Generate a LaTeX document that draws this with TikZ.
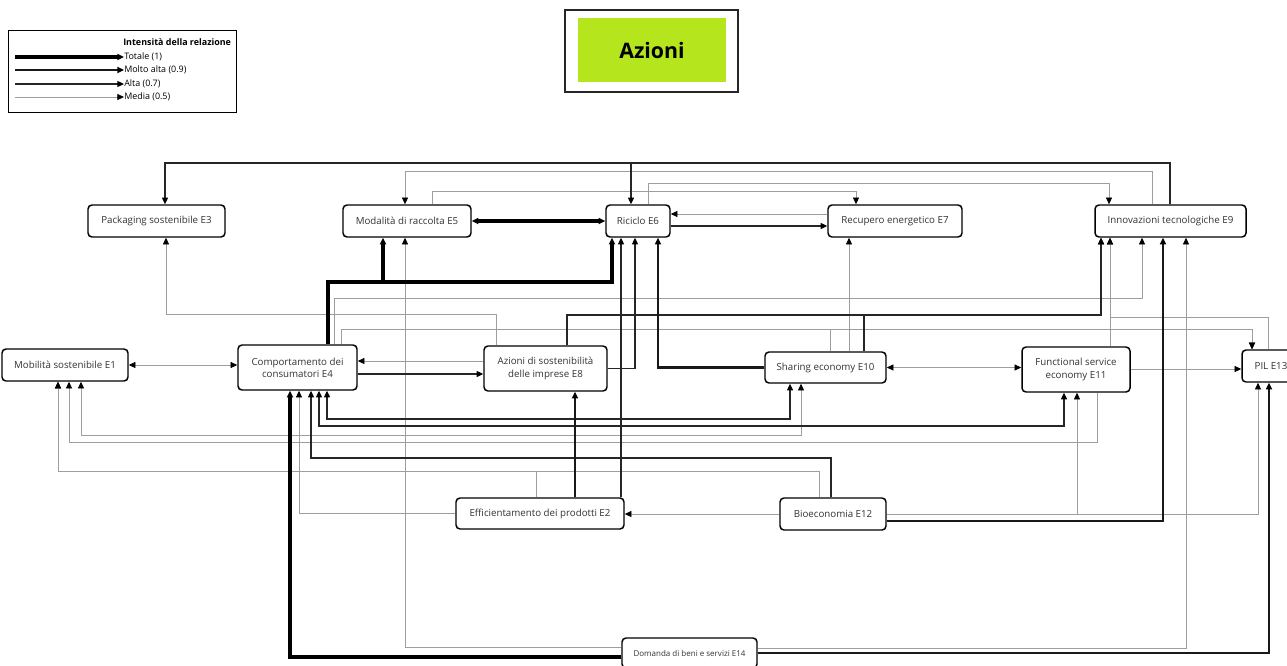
\documentclass[tikz,border=0pt]{standalone}
\usepackage{fontspec}
\setmainfont{Open Sans}
\usetikzlibrary{arrows.meta}
\definecolor{lime}{HTML}{B5E61D}
\definecolor{linkgray}{gray}{0.62}
\tikzset{
  box/.style={draw=black, line width=1.1pt, rounded corners=3pt, fill=white, inner sep=0pt,
    align=center, font=\fontsize{7.3}{9.2}\selectfont, text=black!80},
  tip/.style={-{Triangle[length=5pt,width=4.5pt,color=black]}},
  both/.style={{Triangle[length=5pt,width=4.5pt,color=black]}-{Triangle[length=5pt,width=4.5pt,color=black]}},
  tot/.style={line width=2.3pt, black},
  molto/.style={line width=1.6pt, black!90},
  alta/.style={line width=0.9pt, black!85},
  media/.style={line width=0.55pt, linkgray},
  legtext/.style={anchor=west, inner sep=0pt, font=\fontsize{6.7}{8}\selectfont},
}
\begin{document}
\begin{tikzpicture}[x=0.75pt,y=-0.75pt]
\useasboundingbox (0,0) rectangle (1287,665);

% ---------- legend ----------
\draw[line width=0.7pt] (8,30) rectangle (236,112);
\node[legtext, font=\fontsize{6.7}{8}\selectfont\bfseries] (lgt) at (123,42) {Intensità della relazione};
\node[legtext] (lg1) at (124,57) {Totale (1)};
\node[legtext] (lg2) at (124,70) {Molto alta (0.9)};
\node[legtext] (lg3) at (124,84) {Alta (0.7)};
\node[legtext] (lg4) at (124,97) {Media (0.5)};
\coordinate (ls1) at (15,57);
\coordinate (ls2) at (15,70);
\coordinate (ls3) at (15,84);
\coordinate (ls4) at (15,97);
\draw[tot,tip] (ls1) -- (lg1.west);
\draw[molto,tip] (ls2) -- (lg2.west);
\draw[alta,tip] (ls3) -- (lg3.west);
\draw[media,tip] (ls4) -- (lg4.west);

% ---------- title ----------
\draw[line width=1.1pt, black!85] (565,10) rectangle (738,92);
\node[fill=lime, minimum width=111pt, minimum height=48pt, inner sep=0pt,
  font=\fontsize{16}{18}\selectfont\bfseries] (title) at (652,50) {Azioni};

% ---------- nodes ----------
\node[box, minimum width=102.75pt, minimum height=24pt] (E3) at (156.5,221) {Packaging sostenibile E3};
\node[box, minimum width=96pt, minimum height=24pt] (E5) at (407,221) {Modalità di raccolta E5};
\node[box, minimum width=48pt, minimum height=24pt] (E6) at (638,221) {Riciclo E6};
\node[box, minimum width=100.5pt, minimum height=24pt] (E7) at (895,221) {Recupero energetico E7};
\node[box, minimum width=113.25pt, minimum height=24pt] (E9) at (1170.5,221) {Innovazioni tecnologiche E9};
\node[box, minimum width=94.5pt, minimum height=24pt] (E1) at (65,365) {Mobilità sostenibile E1};
\node[box, minimum width=89.25pt, minimum height=33.75pt] (E4) at (297.5,367.5) {Comportamento dei\\consumatori E4};
\node[box, minimum width=92.25pt, minimum height=33.75pt] (E8) at (545.5,368.5) {Azioni di sostenibilità\\delle imprese E8};
\node[box, minimum width=90.75pt, minimum height=23.25pt] (E10) at (825.5,367.5) {Sharing economy E10};
\node[box, minimum width=81pt, minimum height=33.75pt] (E11) at (1076,369.5) {Functional service\\economy E11};
\node[box, minimum width=43.5pt, minimum height=24pt] (E13) at (1271,366) {PIL E13};
\node[box, minimum width=126pt, minimum height=23.25pt] (E2) at (540,513.5) {Efficientamento dei prodotti E2};
\node[box, minimum width=79.5pt, minimum height=24pt] (E12) at (833,514) {Bioeconomia E12};
\node[box, minimum width=101.25pt, minimum height=22.5pt, font=\fontsize{6}{7.5}\selectfont] (E14) at (689.5,653) {Domanda di beni e servizi E14};

% ---------- media (0.5) ----------
\draw[media,tip] (E9.north -| 1152,0) -- (1152,171) -| (E5.north -| 405,0);
\draw[media,tip] (E6.north -| 648,0) -- (648,183) -| (E9.north -| 1109,0);
\draw[media,tip] (E5.north -| 432,0) -- (432,191) -| (E7.north -| 856,0);
\draw[media,tip] (E7.west |- 0,214) -- (E6.east |- 0,214);
\draw[media,tip] (E2.north -| 536,0) -- (536,471) -| (E1.south -| 58,0);
\draw[media,tip] (E12.north -| 819,0) -- (819,471) -| (E1.south -| 58,0);
\draw[media,tip] (E12.west) -- (E2.east |- E12.west);
\draw[media,tip] (E2.west) -| (E4.south -| 299,0);
\draw[media,tip] (E14.west |- 0,647) -| (E5.south -| 405,0);
\draw[media,tip] (E14.east |- 0,648) -| (E9.south -| 1186,0);
\draw[media,tip] (E12.east |- 0,514) -| (E13.south -| 1258,0);
\draw[media,tip] (E12.east |- 0,514) -| (E11.south -| 1077,0);
\draw[media,both] (E1.south -| 81,0) -- (81,435) -| (E10.south -| 801,0);
\draw[media,tip] (E11.south -| 1097,0) -- (1097,442) -| (E1.south -| 69,0);
\draw[media,both] (E1.east) -- (E4.west |- E1.east);
\draw[media,tip] (E8.west |- 0,361) -- (E4.east |- 0,361);
\draw[media,both] (E10.east) -- (E11.west |- E10.east);
\draw[media,tip] (E11.east |- 0,369) -- (E13.west |- 0,369);
\draw[media,tip] (E8.north -| 496,0) -- (496,314) -| (E3.south -| 166,0);
\draw[media,tip] (E10.north -| 849,0) -- (E7.south -| 849,0);
\draw[media,tip] (E4.north -| 334,0) -- (334,298) -| (E9.south -| 1142,0);
\draw[media,tip] (E4.north -| 341,0) -- (341,329) -| (E13.north -| 1252,0);
\draw[media,tip] (E10.north -| 830,0) -- (830,329) -| (E13.north -| 1252,0);
\draw[media,tip] (E13.north -| 1268,0) -- (1268,317) -| (E9.south -| 1110,0);
\draw[media,tip] (E11.north -| 1110,0) -- (E9.south -| 1110,0);

% ---------- alta (0.7) ----------
\draw[alta,tip] (E9.north -| 1170,0) -- (1170,163) -| (E3.north -| 165,0);
\draw[alta,tip] (E9.north -| 1170,0) -- (1170,163) -| (E6.north -| 631,0);
\draw[alta,tip] (E6.east |- 0,226) -- (E7.west |- 0,226);
\draw[alta,tip] (E8.east) -| (E6.south -| 635,0);
\draw[alta,tip] (E2.north -| 621,0) -- (E6.south -| 621,0);
\draw[alta,tip] (E12.north -| 831,0) -- (831,458) -| (E4.south -| 311,0);
\draw[alta,both] (E4.south -| 327,0) -- (327,419) -| (E10.south -| 790,0);
\draw[alta,both] (E4.south -| 319,0) -- (319,426) -| (E11.south -| 1064,0);
\draw[alta,tip] (E4.east |- 0,374) -- (E8.west |- 0,374);
\draw[alta,tip] (E8.north -| 567,0) -- (567,315) -| (E9.south -| 1101,0);
\draw[alta,tip] (E10.north -| 864,0) -- (864,315) -| (E9.south -| 1101,0);

% ---------- molto alta (0.9) ----------
\draw[molto,tip] (E10.west) -| (E6.south -| 658,0);
\draw[molto,tip] (E2.north -| 575,0) -- (E8.south -| 575,0);
\draw[molto,tip] (E14.east |- 0,653) -| (E13.south -| 1269,0);
\draw[molto,tip] (E12.east |- 0,521) -| (E9.south -| 1163,0);

% ---------- totale (1) ----------
\draw[tot,both] (E5.east) -- (E6.west);
\draw[tot,tip] (E4.north -| 328,0) -- (328,282) -| (E5.south -| 383,0);
\draw[tot,tip] (E4.north -| 328,0) -- (328,282) -| (E6.south -| 612,0);
\draw[tot,tip] (E14.west |- 0,657) -| (E4.south -| 290,0);
\end{tikzpicture}
\end{document}
